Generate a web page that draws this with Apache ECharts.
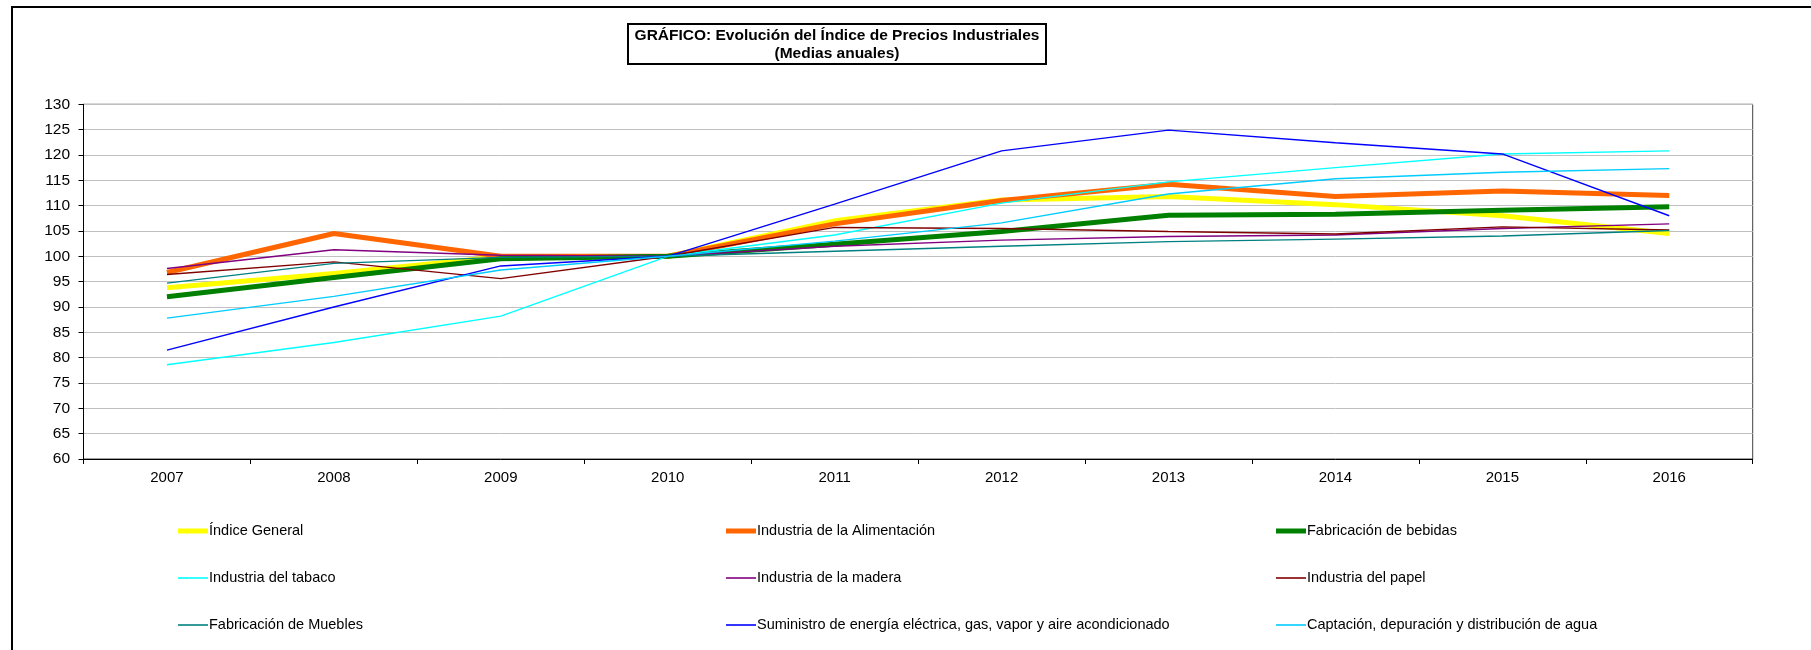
<!DOCTYPE html>
<html>
<head>
<meta charset="utf-8">
<script src="https://cdn.jsdelivr.net/npm/echarts@6/dist/echarts.min.js"></script>
<style>
html,body{margin:0;padding:0;background:#fff;}
#chart{width:1811px;height:650px;}
</style>
</head>
<body>
<div id="chart"></div>
<script>
const years = ['2007','2008','2009','2010','2011','2012','2013','2014','2015','2016'];
const yTicks = [60,65,70,75,80,85,90,95,100,105,110,115,120,125,130];

const indiceGeneral   = [93.8, 96.6, 99.9, 100, 107.0, 111.1, 111.8, 110.2, 108.0, 104.5];
const alimentacion    = [96.8, 104.5, 100.0, 100, 106.4, 111.0, 114.2, 111.8, 112.9, 112.0];
const bebidas         = [92.0, 95.8, 99.5, 100, 102.4, 104.9, 108.1, 108.3, 109.1, 109.8];
const tabaco          = [78.6, 83.0, 88.2, 100, 104.2, 110.5, 114.7, 117.5, 120.2, 120.8];
const madera          = [97.6, 101.3, 100.2, 100, 102.0, 103.2, 103.9, 104.2, 105.5, 106.4];
const papel           = [96.4, 98.9, 95.6, 100, 105.7, 105.5, 104.9, 104.4, 105.8, 105.2];
const muebles         = [94.7, 98.6, 99.8, 100, 101.0, 102.0, 102.9, 103.4, 104.0, 105.1];
const energia         = [81.5, 90.0, 98.1, 100, 110.3, 120.8, 124.9, 122.4, 120.2, 108.0];
const agua            = [87.8, 92.1, 97.3, 100, 103.0, 106.6, 112.3, 115.3, 116.6, 117.3];

const seriesNames = [
  'Índice General','Industria de la Alimentación','Fabricación de bebidas',
  'Industria del tabaco','Industria de la madera','Industria del papel',
  'Fabricación de Muebles','Suministro de energía eléctrica, gas, vapor y aire acondicionado','Captación, depuración y distribución de agua'
];
const seriesData = [indiceGeneral, alimentacion, bebidas, tabaco, madera, papel, muebles, energia, agua];
const seriesColors = ['#FFFF00','#FF6600','#008000','#00FFFF','#800080','#800000','#008080','#0000FF','#00CCFF'];
const seriesWidths = [5,5,5,1.4,1.4,1.4,1.4,1.4,1.4];

const chart = echarts.init(document.getElementById('chart'), null, {renderer:'canvas'});
const font = 'Arial, "Liberation Sans", sans-serif';

const thickIcon = 'path://M0,0L30,0L30,5L0,5Z';
const thinIcon = 'path://M0,0L30,0L30,1.6L0,1.6Z';

function legendCol(left, idxs){
  return {
    orient:'vertical', left:left, top:523.5, padding:0,
    itemWidth:30, itemHeight:14, itemGap:32,
    symbolKeepAspect:true,
    data:idxs.map(i=>({name:seriesNames[i], icon: seriesWidths[i] > 3 ? thickIcon : thinIcon})),
    selectedMode:false,
    textStyle:{fontFamily:font, fontSize:14.5, color:'#000', padding:[0,0,0,-4]}
  };
}

const option = {
  backgroundColor:'#fff',
  animation:false,
  graphic:[
    {type:'rect', shape:{x:12, y:7, width:2000, height:1000}, style:{fill:'none', stroke:'#000', lineWidth:2}, silent:true},
    {type:'rect', shape:{x:628, y:24, width:418, height:40}, style:{fill:'#fff', stroke:'#000', lineWidth:2}, silent:true},
    {type:'text', x:837, y:35.5, style:{text:'GRÁFICO: Evolución del Índice de Precios Industriales', font:'bold 15.5px ' + font, fill:'#000', align:'center', verticalAlign:'middle'}},
    {type:'text', x:837, y:53.5, style:{text:'(Medias anuales)', font:'bold 15.5px ' + font, fill:'#000', align:'center', verticalAlign:'middle'}}
  ],
  legend:[
    legendCol(178, [0,3,6]),
    legendCol(726, [1,4,7]),
    legendCol(1276, [2,5,8])
  ],
  grid:{left:83.5, right:58.3, top:104.3, bottom:191, show:true, borderColor:'#404040', borderWidth:1, containLabel:false},
  xAxis:{
    type:'category', data:years, boundaryGap:true,
    axisLine:{lineStyle:{color:'#000', width:1}},
    axisTick:{show:true, length:5, lineStyle:{color:'#000'}},
    axisLabel:{color:'#000', fontSize:15, fontFamily:font, margin:11},
    splitLine:{show:false}
  },
  yAxis:{
    type:'value', min:yTicks[0], max:yTicks[yTicks.length-1], interval:5,
    axisLine:{show:true, lineStyle:{color:'#000', width:1}},
    axisTick:{show:true, length:5, lineStyle:{color:'#000'}},
    axisLabel:{color:'#000', fontSize:15.5, fontFamily:font, margin:13.5},
    splitLine:{show:true, lineStyle:{color:'#C0C0C0', width:1}}
  },
  series: seriesNames.map((n,i)=>({
    name:n, type:'line', data:seriesData[i], symbol:'none', showSymbol:false,
    lineStyle:{color:seriesColors[i], width:seriesWidths[i]},
    itemStyle:{color:seriesColors[i]},
    z: 2 + i
  }))
};
chart.setOption(option);
</script>
</body>
</html>
